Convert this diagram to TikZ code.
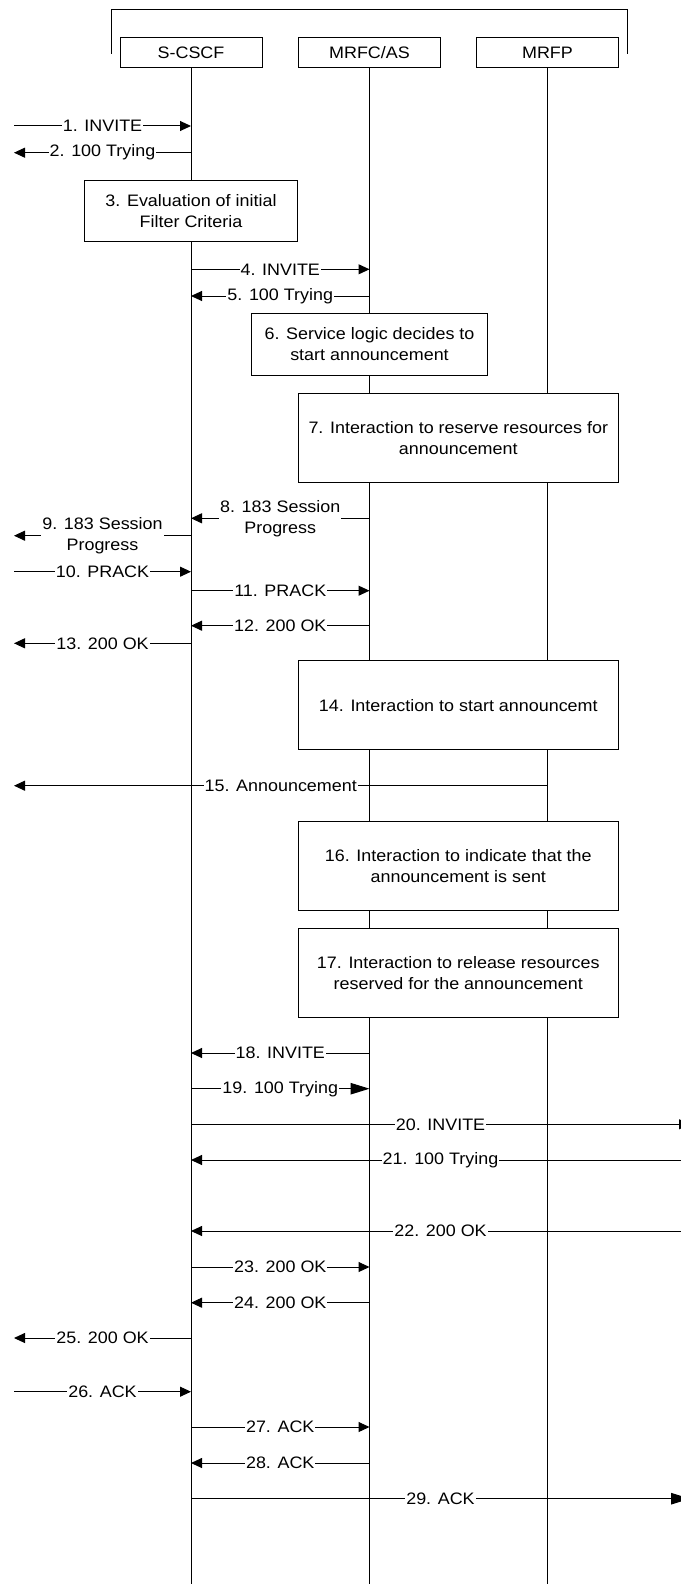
\documentclass[tikz,border=0pt]{standalone}
\usepackage{fontspec}
\setmainfont{Liberation Sans}[FakeStretch=1.08]
\usetikzlibrary{arrows.meta}

\tikzset{
  entity/.style={draw, fill=white, minimum width=142pt, minimum height=30.4pt, inner sep=0pt},
  action/.style={draw, fill=white, align=center, inner sep=2pt},
  msg/.style={-{Triangle[length=11pt,width=10pt]}},
  bigmsg/.style={-{Triangle[length=19pt,width=11.5pt]}},
  lbl/.style={fill=white, inner sep=1pt, align=center}
}

\begin{document}
\begin{tikzpicture}[x=1pt, y=-1pt, line width=1pt, font=\fontsize{16.6}{21}\selectfont]
    \useasboundingbox (0,0) rectangle (680,1584);

    % 网络实体
    \draw (111,54) -- (111,10) -- (627.5,10) -- (627.5,54);
    \node[entity] (scscf) at (191,52.5) {S-CSCF};
    \node[entity] (mrfc) at (369.5,52.5) {MRFC/AS};
    \node[entity] (mrfp) at (547.5,52.5) {MRFP};
    \coordinate (ue) at (14,0);
    \coordinate (far) at (690,0);

    % 生命线
    \foreach \n in {scscf,mrfc,mrfp}
    \draw (\n.south) -- (\n.south |- 0,1584);

    % 处理框
    \node[action, minimum width=213.4pt, minimum height=61.3pt] (ifc) at (191,210.7) {3. Evaluation of initial\\Filter Criteria};
    \node[action, minimum width=236pt, minimum height=62.4pt] (logic) at (369.5,344.5) {6. Service logic decides to\\start announcement};
    \node[action, minimum width=320.4pt, minimum height=88.6pt] (reserve) at (458.3,438) {7. Interaction to reserve resources for\\announcement};
    \node[action, minimum width=320.4pt, minimum height=89.3pt] (start) at (458.3,705.3) {14. Interaction to start announcemt};
    \node[action, minimum width=320.4pt, minimum height=89.3pt] (sent) at (458.3,865.7) {16. Interaction to indicate that the\\announcement is sent};
    \node[action, minimum width=320.4pt, minimum height=89.3pt] (release) at (458.3,972.7) {17. Interaction to release resources\\reserved for the announcement};

    % 消息
    \foreach \y/\a/\b/\t in {
      126/ue/scscf/{1. INVITE},
      152.7/scscf/ue/{2. 100 Trying},
      269.3/scscf/mrfc/{4. INVITE},
      296/mrfc/scscf/{5. 100 Trying},
      518.3/mrfc/scscf/{8. 183 Session\\Progress},
      535.7/scscf/ue/{9. 183 Session\\Progress},
      571.7/ue/scscf/{10. PRACK},
      590.7/scscf/mrfc/{11. PRACK},
      625.7/mrfc/scscf/{12. 200 OK},
      643.3/scscf/ue/{13. 200 OK},
      785.7/mrfp/ue/{15. Announcement},
      1053/mrfc/scscf/{18. INVITE},
      1124.3/scscf/far/{20. INVITE},
      1160/far/scscf/{21. 100 Trying},
      1231/far/scscf/{22. 200 OK},
      1267/scscf/mrfc/{23. 200 OK},
      1302.7/mrfc/scscf/{24. 200 OK},
      1338/scscf/ue/{25. 200 OK},
      1391.7/ue/scscf/{26. ACK},
      1427/scscf/mrfc/{27. ACK},
      1463/mrfc/scscf/{28. ACK}}
    \draw[msg] (\a |- 0,\y) -- node[lbl] {\t} (\b |- 0,\y);
    \draw[bigmsg] (scscf |- 0,1088.7) -- node[lbl] {19. 100 Trying} (mrfc |- 0,1088.7);
    \draw[bigmsg] (scscf |- 0,1498.7) -- node[lbl] {29. ACK} (far |- 0,1498.7);
\end{tikzpicture}
\end{document}
